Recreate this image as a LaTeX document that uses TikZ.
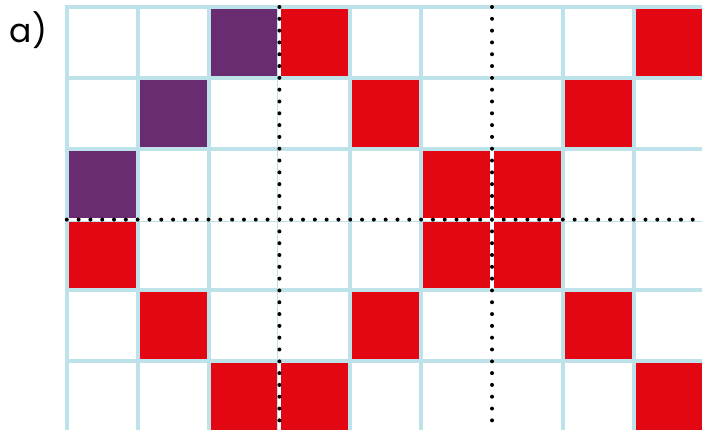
\documentclass[tikz,border=0pt]{standalone}
\usepackage{fontspec}
\setmainfont{Poppins}
\usetikzlibrary{positioning}

\definecolor{gridblue}{RGB}{190,226,234}
\definecolor{cellred}{RGB}{227,6,19}
\definecolor{cellpurple}{RGB}{106,44,112}

\begin{document}
\begin{tikzpicture}[x=1pt, y=-1pt,
    gridline/.style={draw=gridblue, line width=4pt},
    dotback/.style={draw=white, line width=3.5pt},
    dotline/.style={draw=black, line width=4pt, line cap=round,
                    dash pattern=on 0pt off 11.81pt},
    tag/.style={font=\fontsize{33}{33}\selectfont, anchor=base west, inner sep=0pt}
  ]
  \def\cellsize{70.87}
  \def\gx{66.8}
  \def\gy{7}

  \useasboundingbox (0,0) rectangle (702,430);
  \clip (0,0) rectangle (702,430);

  %% ── label ───────────────────────────────────────────────────────────
  \node[tag] (lbl) at (9.5,43) {a)};

  %% ── grid lines ──────────────────────────────────────────────────────
  \foreach \i in {0,...,9}
    \draw[gridline] ({\gx+\i*\cellsize},{\gy-2}) -- ++(0,440);
  \foreach \j in {0,...,6}
    \draw[gridline] ({\gx-2},{\gy+\j*\cellsize}) -- ++(660,0);

  %% ── filled cells (column/row/colour) ────────────────────────────────
  \foreach \c/\r/\col in {3/1/cellpurple, 4/1/cellred,    9/1/cellred,
                          2/2/cellpurple, 5/2/cellred,    8/2/cellred,
                          1/3/cellpurple, 6/3/cellred,    7/3/cellred,
                          1/4/cellred,    6/4/cellred,    7/4/cellred,
                          2/5/cellred,    5/5/cellred,    8/5/cellred,
                          3/6/cellred,    4/6/cellred,    9/6/cellred}
    \fill[\col] ({\gx+(\c-1)*\cellsize+2},{\gy+(\r-1)*\cellsize+2})
      rectangle ({\gx+\c*\cellsize-2},{\gy+\r*\cellsize-2});

  %% ── dotted dividers ─────────────────────────────────────────────────
  \coordinate (vA) at ({\gx+3*\cellsize},\gy);
  \coordinate (vB) at ({\gx+6*\cellsize},\gy);
  \coordinate (hA) at (\gx,{\gy+3*\cellsize});
  \foreach \p in {vA, vB} {
    \draw[dotback] (\p) -- ++(0,430);
    \draw[dotline] (\p) -- ++(0,430);
  }
  \draw[dotback] (hA) -- ++(650,0);
  \draw[dotline] (hA) -- ++(650,0);

\end{tikzpicture}
\end{document}
